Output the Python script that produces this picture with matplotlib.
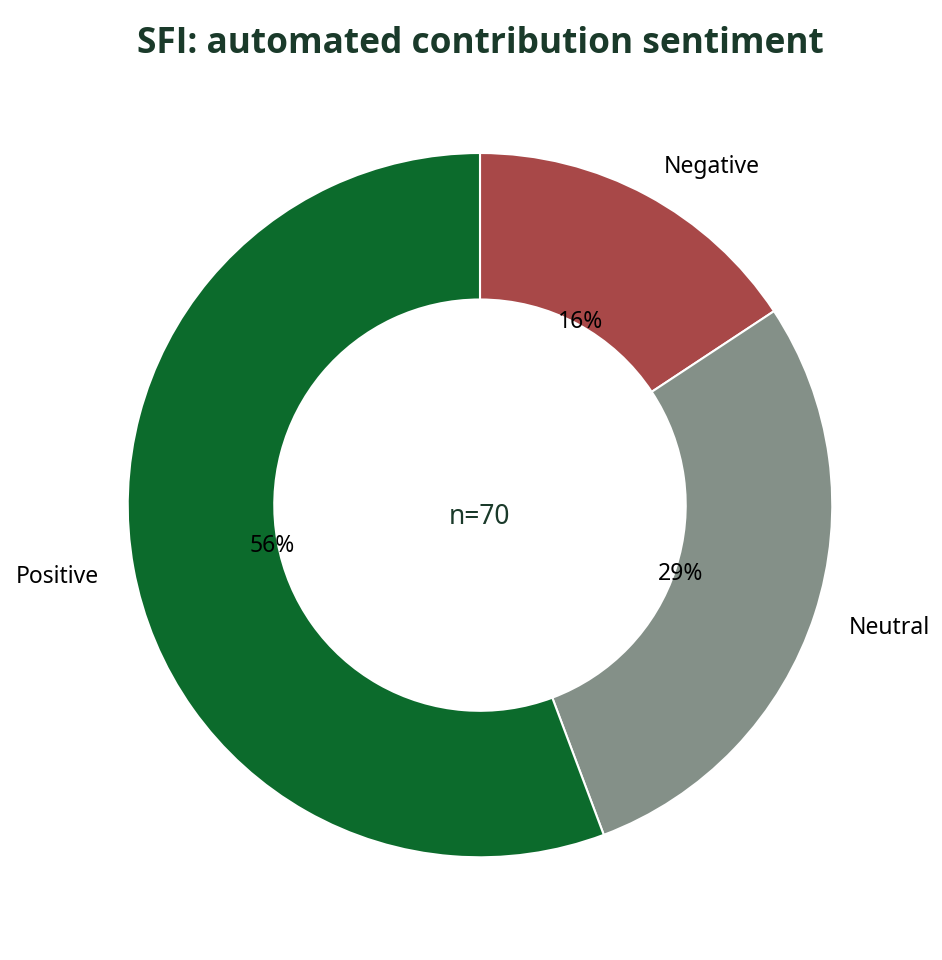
import matplotlib
matplotlib.use("Agg")
import matplotlib.pyplot as plt

plt.rcParams['font.family'] = ['Noto Sans', 'DejaVu Sans']

# data
labels = ['Negative', 'Neutral', 'Positive']
counts = [11, 20, 39]
colors = ['#A84848', '#849088', '#0C6B2C']
title = 'SFI: automated contribution sentiment'

fig = plt.figure(figsize=(9.42, 9.6), dpi=100)
ax = fig.add_axes([0.0982, 0.0703, 0.8227, 0.807])

wedges, texts, autotexts = ax.pie(counts, labels=labels, colors=colors,
                                  autopct='%.0f%%', startangle=90,
                                  counterclock=False, pctdistance=0.6,
                                  labeldistance=1.1,
                                  wedgeprops=dict(width=0.416, edgecolor='white', linewidth=1.5),
                                  textprops=dict(fontsize=16.5, color='black'))
# texts sit a few px lower in the original
for t in texts + autotexts:
    x, y = t.get_position()
    t.set_position((x, y - 0.009))
ax.text(0, -0.035, 'n=' + str(sum(counts)), ha='center', va='center',
        fontsize=19, color='#1A3A2A')
ax.axis('equal')
# title centred over the donut, not the figure
fig.text(0.5095, 0.954, title, ha='center', va='center', family=['Open Sans', 'DejaVu Sans'],
         fontsize=25.4, fontweight='bold', color='#1A3A2A')

fig.savefig('out.png', dpi=100)
